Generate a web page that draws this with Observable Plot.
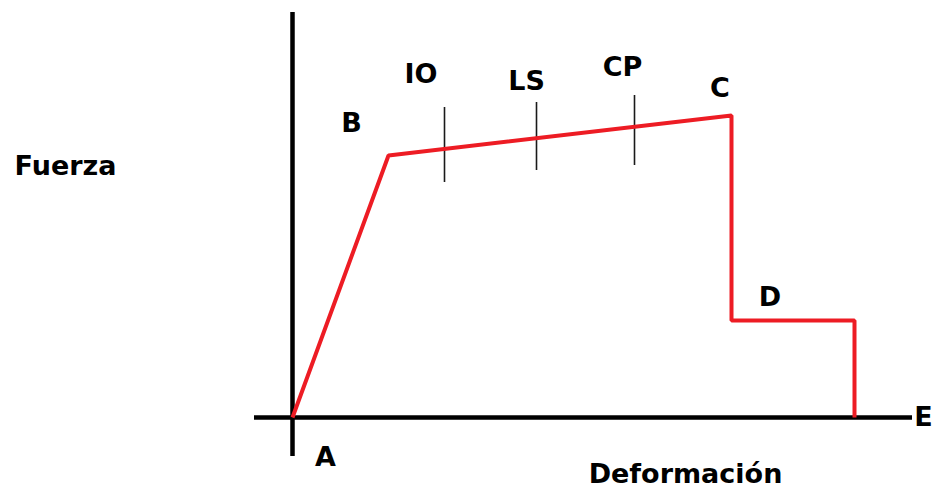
<!DOCTYPE html>
<html>
<head>
<meta charset="utf-8">
<script src="https://cdn.jsdelivr.net/npm/d3@7"></script>
<script src="https://cdn.jsdelivr.net/npm/@observablehq/plot@0.6"></script>
<style>
  html, body { margin: 0; padding: 0; background: #fff; }
  #chart svg { display: block; }
</style>
</head>
<body>
<div id="chart"></div>
<script>
// Force–deformation curve (arbitrary units)
const curvePoints = ["A", "B", "C", "C'", "D", "D'"];
const deformation = [0, 0.96, 4.39, 4.39, 5.62, 5.62];
const force       = [0, 2.62, 3.02, 0.97, 0.97, 0];

// Performance level markers on the B–C branch
const levelNames  = ["IO", "LS", "CP"];
const levelDef    = [1.52, 2.44, 3.42];
const levelTop    = [3.10, 3.15, 3.22];
const levelBottom = [2.35, 2.47, 2.52];

// Axis extents
const xAxisFrom = -0.38, xAxisTo = 6.20;
const yAxisFrom = -0.39, yAxisTo = 4.05;

// Text labels
const labelText = ["A", "B", "IO", "LS", "CP", "C", "D", "E", "Fuerza", "Deformación"];
const labelX    = [0.33, 0.59, 1.285, 2.34, 3.30, 4.275, 4.775, 6.31, -2.27, 3.93];
const labelY    = [-0.40, 2.94, 3.43, 3.36, 3.505, 3.29, 1.20, 0.0, 2.51, -0.57];

const curve = curvePoints.map((p, i) => ({p, x: deformation[i], y: force[i]}));
const levels = levelNames.map((n, i) => ({n, x: levelDef[i], y1: levelBottom[i], y2: levelTop[i]}));
const labels = labelText.map((t, i) => ({t, x: labelX[i], y: labelY[i]}));

const chart = Plot.plot({
  width: 934,
  height: 489,
  margin: 0,
  x: {domain: [-2.92, 6.42], axis: null},
  y: {domain: [-0.72, 4.17], axis: null},
  style: {fontFamily: "'DejaVu Sans', sans-serif", background: "#fff"},
  marks: [
    Plot.ruleY([0], {x1: xAxisFrom, x2: xAxisTo, stroke: "#000", strokeWidth: 4.5}),
    Plot.ruleX([0], {y1: yAxisFrom, y2: yAxisTo, stroke: "#000", strokeWidth: 4.5}),
    Plot.ruleX(levels, {x: "x", y1: "y1", y2: "y2", stroke: "#1a1a1a", strokeWidth: 1.6}),
    Plot.line(curve, {x: "x", y: "y", stroke: "#ED1C24", strokeWidth: 4, strokeLinejoin: "miter", strokeLinecap: "butt"}),
    Plot.text(labels, {x: "x", y: "y", text: "t", fontSize: 27, fontWeight: "bold", fill: "#000", textAnchor: "middle", lineAnchor: "middle"})
  ]
});
document.getElementById("chart").appendChild(chart);
</script>
</body>
</html>
